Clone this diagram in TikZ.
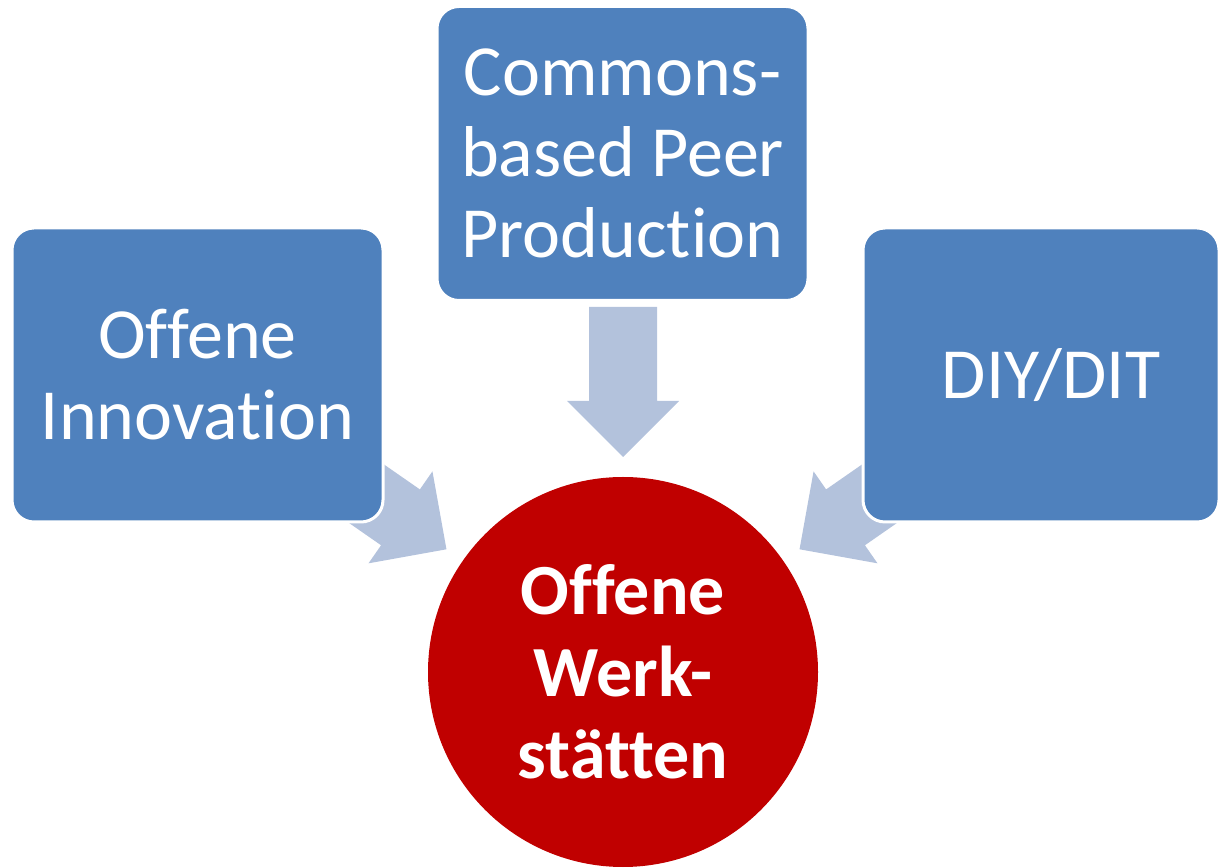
\documentclass[tikz,border=0pt]{standalone}
\usepackage{fontspec}
\setmainfont{Carlito}[Ligatures={NoCommon}]
\usetikzlibrary{calc}
\definecolor{boxblue}{HTML}{4F81BD}
\definecolor{arrowblue}{HTML}{B3C2DC}
\definecolor{circred}{HTML}{C00000}
\tikzset{
  box/.style={rectangle, rounded corners=22pt, fill=boxblue, draw=white, line width=3pt,
    minimum width=371pt, minimum height=294pt, text=white, align=center,
    font=\fontsize{72}{81}\selectfont, inner sep=0pt},
  boxtext/.style={text=white, align=center, font=\fontsize{72}{81}\selectfont, inner sep=0pt},
  hub/.style={circle, fill=circred, minimum size=390pt, inner sep=0pt, text=white,
    align=center, font=\fontsize{72}{82}\selectfont\bfseries},
  barrow/.pic={\fill[arrowblue] (0,0) -- (-56,56) -- (-56,34) -- (-150,34) -- (-150,-34) -- (-56,-34) -- (-56,-56) -- cycle;}
}
\begin{document}
\begin{tikzpicture}[x=1pt,y=1pt]
\useasboundingbox (0,0) rectangle (1220,867);
% centre node
\node[hub] (ow) at (623,195) {Offene\\Werk-\\stätten};
% arrows (tips on a ring around the hub, pointing at its centre)
\coordinate (tipT) at ($(ow.center)+(90:215)$);
\coordinate (tipL) at ($(ow.center)+(145.2:215)$);
\coordinate (tipR) at ($(ow.center)+(34.8:215)$);
\pic[rotate=-90] at (tipT) {barrow};
\pic[rotate=-34.8] at (tipL) {barrow};
\pic[rotate=-145.2] at (tipR) {barrow};
% boxes
\node[box] (oi) at (197.5,492) {Offene\\Innovation};
\node[box] (cbpp) at (622.5,713.5) {Commons-\\based Peer\\Production};
\node[box, minimum width=356pt] (diy) at (1041,492) {};
\node[boxtext] (diyt) at ($(diy.center)+(10,0)$) {DIY/DIT};
\end{tikzpicture}
\end{document}
